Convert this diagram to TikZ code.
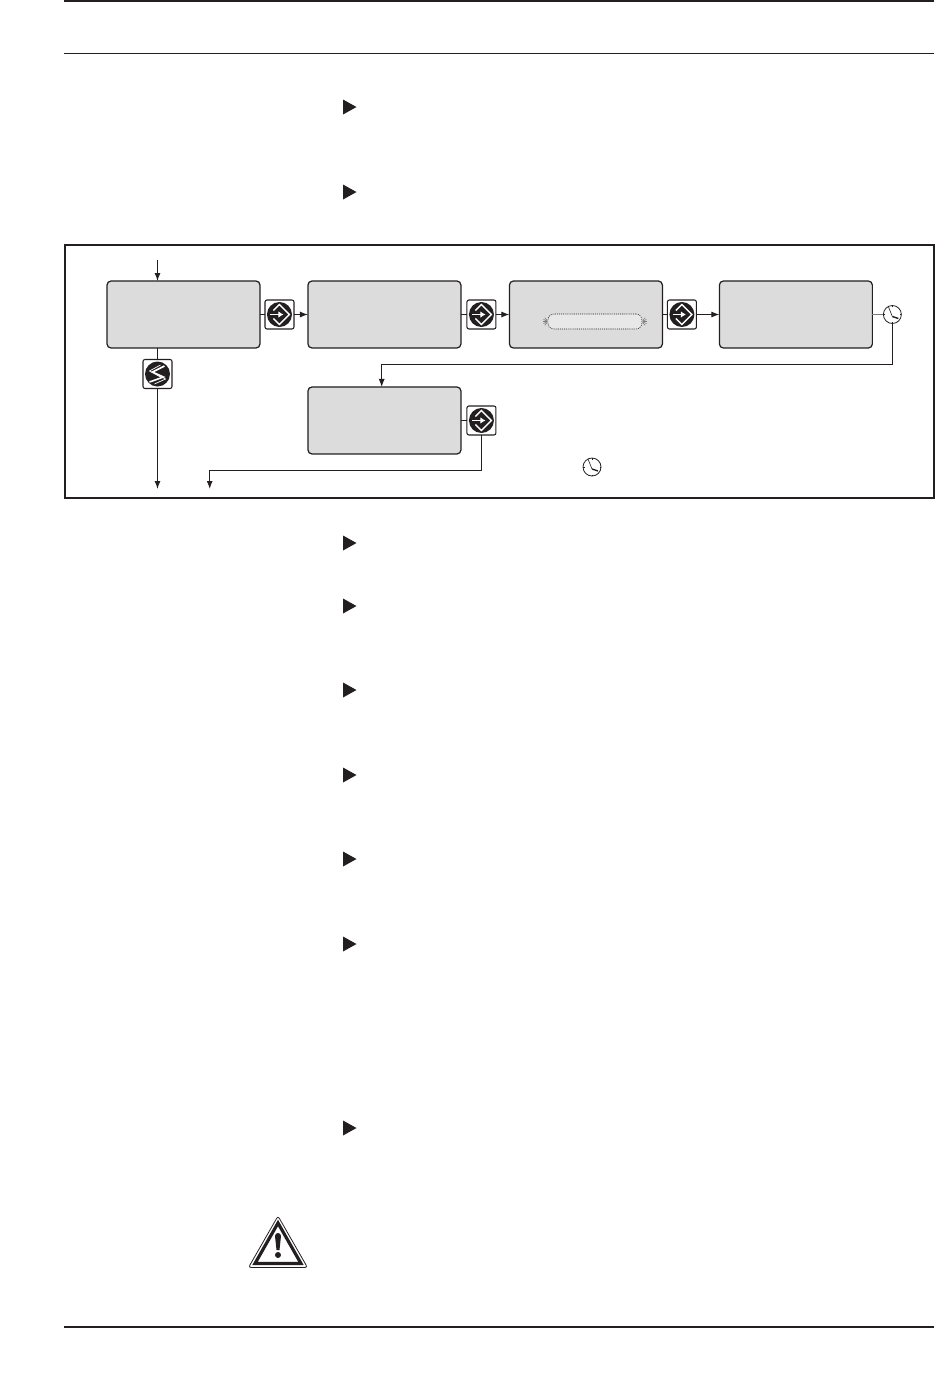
\documentclass[tikz,border=0pt]{standalone}
\usepackage{amsmath}
\usetikzlibrary{shapes,arrows,arrows.meta,positioning,calc}
\definecolor{lcdgray}{HTML}{DCDCDC}
\definecolor{inkdark}{HTML}{231F20}
\tikzset{
  lcd/.style={draw=inkdark,fill=lcdgray,line width=0.7pt,rounded corners=0.08cm,outer sep=0,
    inner sep=0,minimum width=3.06cm,minimum height=1.34cm},
  keybox/.style={draw=inkdark,fill=white,line width=0.6pt,rounded corners=0.04cm,outer sep=0,
    inner sep=0,minimum width=0.58cm,minimum height=0.58cm},
  clockdial/.style={draw=inkdark,fill=white,circle,line width=0.45pt,outer sep=0,inner sep=0,minimum size=0.36cm},
  flow/.style={draw=inkdark,line width=0.6pt},
  flowto/.style={flow,-{Latex[length=0.16cm,width=0.12cm]}},
  rule/.style={draw=inkdark,line width=0.65pt},
}
% white glyph of the enter key
\newcommand{\enterglyph}[1]{
  \begin{scope}[shift={(#1.center)}]
    \fill[inkdark] (0,0) circle (0.25cm);
    \draw[white,line width=0.8pt] (-6,-4) -- (0,-10) -- (10,0) -- (0,10) -- (-6,4);
    \draw[white,line width=0.8pt,-{Latex[length=0.1cm,width=0.13cm]}] (-9,0) -- (4,0);
  \end{scope}
}
% white glyph of the stop key
\newcommand{\stopglyph}[1]{
  \begin{scope}[shift={(#1.center)}]
    \fill[inkdark] (0,0) circle (0.25cm);
    \draw[white,line width=0.9pt] (7,-8) -- (-5,-2) -- (6,3) -- (-8,8);
    \draw[white,line width=0.4pt] (3,-9) -- (-8,-3) -- (3,3);
    \draw[white,line width=0.4pt] (-3,-1) -- (8,5) -- (-3,10);
  \end{scope}
}
\newcommand{\clockhands}[1]{
  \begin{scope}[shift={(#1.center)}]
    \draw[inkdark,line width=0.35pt] (-4,-8) -- (0,2);
    \draw[inkdark,line width=0.8pt] (0,2) -- (6,4);
    \foreach \ang in {0,90,180,270}
      \draw[inkdark,line width=0.35pt] (\ang:7.5) -- (\ang:9);
  \end{scope}
}
\begin{document}
\begin{tikzpicture}[x=0.02cm,y=-0.02cm]
  \useasboundingbox (0,0) rectangle (950,1383);

  % page rules
  \draw[rule] (64,1) -- (934,1);
  \draw[rule] (64,53.5) -- (934,53.5);
  \draw[rule] (64,1327) -- (934,1327);

  % list pointers
  \foreach \yy in {107,192,543,606,690,775,859,944,1128}
    \fill[inkdark] (343,\yy-7.5) -- (356.5,\yy) -- (343,\yy+7.5) -- cycle;

  % frame
  \node (frame) [draw=inkdark,line width=1.15pt,outer sep=0,inner sep=0,minimum width=17.38cm,minimum height=5.07cm] at (499.5,371.7) {};

  % top row
  \node (menu) [lcd] at (183.5,314.5) {};
  \node (keya) [keybox,right=0.1cm of menu] {};
  \node (confirm) [lcd,right=0.28cm of keya] {};
  \node (keyb) [keybox,right=0.12cm of confirm] {};
  \node (blink) [lcd,right=0.27cm of keyb] {};
  \node (keyc) [keybox,right=0.1cm of blink] {};
  \node (done) [lcd,right=0.46cm of keyc] {};
  \node (clk) [clockdial,right=0.22cm of done] {};

  % second row
  \node (result) [lcd,below=0.78cm of confirm] {};
  \node (keye) [keybox,right=0.12cm of result] {};
  \node (keys) [keybox] at (157.5,374) {};

  % flashing field
  \node (field) [draw=inkdark,dash pattern=on 0.6pt off 0.6pt,line width=0.3pt,fill=lcdgray!65!white,rounded corners=0.12cm,
    outer sep=0,inner sep=0,minimum width=1.88cm,minimum height=0.3cm] at ($(blink.center)+(9,7)$) {};
  \foreach \ang in {130,155,180,205,230}
    \draw[inkdark!60,line width=0.3pt] ($(field.west)+(\ang:1)$) -- ($(field.west)+(\ang:5)$);
  \foreach \ang in {-50,-25,0,25,50}
    \draw[inkdark!60,line width=0.3pt] ($(field.east)+(\ang:1)$) -- ($(field.east)+(\ang:5)$);

  % free clock
  \node (clkfree) [clockdial] at (592,467) {};

  % key glyphs
  \enterglyph{keya}
  \enterglyph{keyb}
  \enterglyph{keyc}
  \enterglyph{keye}
  \stopglyph{keys}
  \clockhands{clk}
  \clockhands{clkfree}

  % connectors
  \coordinate (entry) at (157.5,260);
  \coordinate (exita) at (157.5,489);
  \coordinate (turna) at (381.7,364.5);
  \coordinate (turnb) at (209.7,470.5);
  \coordinate (exitb) at (209.7,489);

  \draw [flowto] (entry) -- (entry |- menu.north);
  \draw [flow] (keys |- menu.south) -- (keys);
  \draw [flowto] (keys) -- (exita);

  \draw [flow] (menu) -- (keya);
  \draw [flowto] (keya) -- (confirm);
  \draw [flow] (confirm) -- (keyb);
  \draw [flowto] (keyb) -- (blink);
  \draw [flow] (blink) -- (keyc);
  \draw [flowto] (keyc) -- (done);
  \draw [draw=inkdark!60,line width=1pt] (done) -- (clk);

  \draw [flowto] (clk.south) |- (turna) -- (turna |- result.north);
  \draw [flow] (result) -- (keye);
  \draw [flowto] (keye.south) |- (turnb) -- (exitb);

  % warning sign
  \draw[inkdark,line width=0.45pt,rounded corners=0.05cm,fill=white] (278,1216) -- (307.5,1267.5) -- (248.5,1267.5) -- cycle;
  \draw[inkdark,line width=1.8pt,fill=white] (278,1223) -- (301,1263.5) -- (255,1263.5) -- cycle;
  \fill[inkdark] (275,1236) arc[start angle=180,end angle=360,radius=3] -- (279.5,1250) -- (276.5,1250) -- cycle;
  \fill[inkdark] (278,1255) circle (0.06cm);
\end{tikzpicture}
\end{document}
